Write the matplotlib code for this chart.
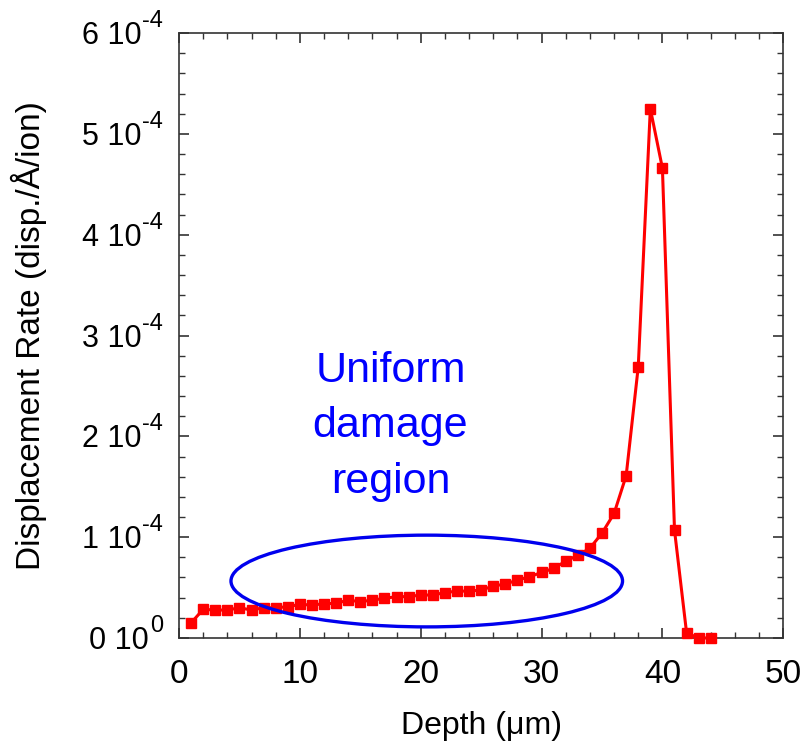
import numpy as np
import matplotlib
matplotlib.use('Agg')
import matplotlib.pyplot as plt
import matplotlib.transforms as mtransforms
from matplotlib.patches import Ellipse
from matplotlib.ticker import MultipleLocator

plt.rcParams['font.family'] = ['Liberation Sans', 'DejaVu Sans']

# depth (um) and displacement rate (x 1e-4 disp./A/ion)
depth = list(range(1, 45))
rate_e4 = [0.15, 0.284, 0.277, 0.277, 0.30, 0.277, 0.30, 0.30, 0.31, 0.333,
           0.327, 0.34, 0.343, 0.376, 0.36, 0.376, 0.393, 0.41, 0.41, 0.426,
           0.426, 0.45, 0.465, 0.465, 0.475, 0.515, 0.535, 0.574, 0.607, 0.65,
           0.69, 0.762, 0.82, 0.89, 1.04, 1.235, 1.61, 2.69, 5.25, 4.66,
           1.07, 0.05, 0.0, 0.0]
rate = np.array(rate_e4) * 1e-4

fig = plt.figure(figsize=(8.1, 7.44), dpi=100)
ax = fig.add_axes([0.221, 0.1425, 0.746, 0.813])

ax.plot(depth, rate, color='#ff0000', lw=2.2, marker='s', ms=7, clip_on=False, zorder=3)

ell = Ellipse((20.5, 0.565e-4), 32.4, 0.91e-4, fill=False, ec='#0000ee', lw=2.4, zorder=4)
ax.add_patch(ell)
ax.text(17.5, 2.1e-4, 'Uniform\ndamage\nregion', color='#0000ff', fontsize=31,
        ha='center', va='center', linespacing=1.5)

ax.set_xlim(0, 50)
ax.set_ylim(0, 6e-4)
ax.xaxis.set_major_locator(MultipleLocator(10))
ax.xaxis.set_minor_locator(MultipleLocator(2))
ax.yaxis.set_major_locator(MultipleLocator(1e-4))
ax.yaxis.set_minor_locator(MultipleLocator(0.2e-4))

ax.tick_params(which='both', direction='in', top=True, right=True, color='#333333')
ax.tick_params(which='major', length=7, width=1.2, pad=15)
ax.tick_params(axis='x', labelsize=24)
ax.tick_params(axis='y', labelleft=False)
ax.tick_params(which='minor', length=4.5, width=1)
for s in ax.spines.values():
    s.set_color('#333333')
    s.set_linewidth(1.2)

ax.set_xlabel('Depth (μm)', fontsize=23, labelpad=15)
ax.set_ylabel('Displacement Rate (disp./Å/ion)', fontsize=24)
ax.yaxis.set_label_coords(-0.218, 0.5)

# y tick labels like "5 10^-4" with a big exponent
trans = mtransforms.blended_transform_factory(ax.transAxes, ax.transData)
fig.canvas.draw()
renderer = fig.canvas.get_renderer()
for v in ax.get_yticks():
    if v < -1e-12 or v > 6.0001e-4:
        continue
    k = int(round(v * 1e4))
    exp = '0' if k == 0 else '-4'
    t_exp = ax.annotate(exp, xy=(0, v), xycoords=trans, xytext=(-16, 12),
                        textcoords='offset pixels', ha='right', va='center',
                        fontsize=17, annotation_clip=False)
    w = t_exp.get_window_extent(renderer).width
    ax.annotate('%d 10' % k, xy=(0, v), xycoords=trans, xytext=(-16 - w - 1, -3),
                textcoords='offset pixels', ha='right', va='center',
                fontsize=22, annotation_clip=False)

fig.savefig('out.png', dpi=100)
